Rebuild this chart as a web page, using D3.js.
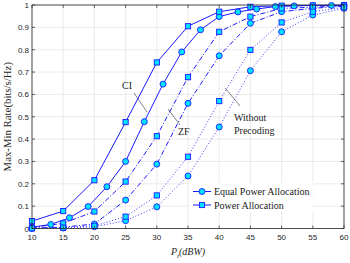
<!DOCTYPE html>
<html>
<head>
<meta charset="utf-8">
<script src="https://cdn.jsdelivr.net/npm/d3@7"></script>
<style>
  body { margin: 0; background: #fff; }
  svg { display: block; }
</style>
</head>
<body>
<script>
// transmit power grid (dBW)
const power5 = [10, 15, 20, 25, 30, 35, 40, 45, 50, 55, 60];
const power3 = [10, 13, 16, 19, 22, 25, 28, 31, 34, 37, 40, 43, 46, 49, 52, 55, 58, 60];

// max-min rate values
const ciEqual = [0.006, 0.018, 0.048, 0.098, 0.187, 0.30, 0.478, 0.646, 0.79, 0.889, 0.948, 0.969, 0.982, 0.993, 0.996, 0.998, 0.998, 0.999];
const ciPower = [0.033, 0.078, 0.216, 0.476, 0.743, 0.905, 0.97, 0.992, 0.997, 0.998, 0.999];
const zfEqual = [0.002, 0.006, 0.02, 0.127, 0.288, 0.56, 0.773, 0.918, 0.97, 0.985, 0.995];
const zfPower = [0.005, 0.023, 0.076, 0.21, 0.413, 0.677, 0.88, 0.948, 0.985, 0.99, 0.997];
const wpEqual = [0.0, 0.002, 0.008, 0.035, 0.097, 0.235, 0.454, 0.706, 0.88, 0.955, 0.985];
const wpPower = [0.001, 0.004, 0.012, 0.053, 0.148, 0.321, 0.57, 0.799, 0.922, 0.97, 0.99];

const xTicks = [10, 15, 20, 25, 30, 35, 40, 45, 50, 55, 60];
const yTicks = [0, 0.1, 0.2, 0.3, 0.4, 0.5, 0.6, 0.7, 0.8, 0.9, 1];
const legendLabels = ["Equal Power Allocation", "Power Allocation"];

const W = 350, H = 263;
const plotL = 32, plotR = 344, plotT = 5, plotB = 228.5;

const lineBlue = "#1a1aff";
const markFill = "#00e0ff";
const axisCol = "#262626";

const svg = d3.select("body").append("svg")
  .attr("width", W)
  .attr("height", H);

const x = d3.scaleLinear().domain([10, 60]).range([plotL, plotR]);
const y = d3.scaleLinear().domain([0, 1]).range([plotB, plotT]);

// grid
svg.append("g").selectAll("line").data(xTicks).join("line")
  .attr("x1", d => x(d)).attr("x2", d => x(d))
  .attr("y1", plotT).attr("y2", plotB)
  .attr("stroke", "#e3e3e3").attr("stroke-width", 0.7);
svg.append("g").selectAll("line").data(yTicks).join("line")
  .attr("x1", plotL).attr("x2", plotR)
  .attr("y1", d => y(d)).attr("y2", d => y(d))
  .attr("stroke", "#e3e3e3").attr("stroke-width", 0.7);

// series
const series = [
  { xs: power3, ys: ciEqual, dash: null, mark: "circle", col: lineBlue },
  { xs: power5, ys: ciPower, dash: null, mark: "square", col: lineBlue },
  { xs: power5, ys: zfEqual, dash: "5,2,1,2", mark: "circle", col: lineBlue },
  { xs: power5, ys: zfPower, dash: "5,2,1,2", mark: "square", col: lineBlue },
  { xs: power5, ys: wpEqual, dash: "1,2", mark: "circle", col: "#3a3aff" },
  { xs: power5, ys: wpPower, dash: "1,2", mark: "square", col: "#3a3aff" }
];

const line = d3.line().x(d => x(d[0])).y(d => y(d[1]));

function drawMarker(g, kind, cx, cy) {
  if (kind === "circle") {
    g.append("circle")
      .attr("cx", cx).attr("cy", cy).attr("r", 3)
      .attr("fill", markFill).attr("stroke", lineBlue).attr("stroke-width", 0.9);
  } else {
    g.append("rect")
      .attr("x", cx - 2.6).attr("y", cy - 2.6)
      .attr("width", 5.2).attr("height", 5.2)
      .attr("fill", markFill).attr("stroke", lineBlue).attr("stroke-width", 0.9);
  }
}

series.forEach(function (s) {
  let pts = s.xs.map((v, i) => [v, s.ys[i]]);
  svg.append("path")
    .attr("d", line(pts))
    .attr("fill", "none")
    .attr("stroke", s.col)
    .attr("stroke-width", 1)
    .attr("stroke-dasharray", s.dash);
});

series.forEach(function (s) {
  let g = svg.append("g");
  s.xs.forEach((v, i) => drawMarker(g, s.mark, x(v), y(s.ys[i])));
});

// box + ticks
svg.append("rect")
  .attr("x", plotL).attr("y", plotT)
  .attr("width", plotR - plotL).attr("height", plotB - plotT)
  .attr("fill", "none").attr("stroke", axisCol).attr("stroke-width", 0.8);

const tk = svg.append("g").attr("stroke", axisCol).attr("stroke-width", 0.7);
xTicks.forEach(function (d) {
  tk.append("line").attr("x1", x(d)).attr("x2", x(d)).attr("y1", plotB).attr("y2", plotB - 3);
  tk.append("line").attr("x1", x(d)).attr("x2", x(d)).attr("y1", plotT).attr("y2", plotT + 3);
});
yTicks.forEach(function (d) {
  tk.append("line").attr("x1", plotL).attr("x2", plotL + 3).attr("y1", y(d)).attr("y2", y(d));
  tk.append("line").attr("x1", plotR).attr("x2", plotR - 3).attr("y1", y(d)).attr("y2", y(d));
});

svg.append("g").selectAll("text").data(xTicks).join("text")
  .attr("x", d => x(d)).attr("y", plotB + 11)
  .attr("text-anchor", "middle")
  .attr("font-family", "Liberation Sans, Arial, sans-serif")
  .attr("font-size", 8).attr("fill", axisCol)
  .text(d => d);

svg.append("g").selectAll("text").data(yTicks).join("text")
  .attr("x", plotL - 3).attr("y", d => y(d) + 3)
  .attr("text-anchor", "end")
  .attr("font-family", "Liberation Sans, Arial, sans-serif")
  .attr("font-size", 8).attr("fill", axisCol)
  .text(d => d);

// axis labels
svg.append("text")
  .attr("transform", "translate(11," + ((plotT + plotB) / 2) + ") rotate(-90)")
  .attr("text-anchor", "middle")
  .attr("font-family", "Liberation Serif, Times New Roman, serif")
  .attr("font-size", 10.8).attr("fill", axisCol)
  .text("Max-Min Rate(bits/s/Hz)");

let xl = svg.append("text")
  .attr("x", 188).attr("y", 255)
  .attr("text-anchor", "middle")
  .attr("font-family", "Liberation Serif, Times New Roman, serif")
  .attr("font-style", "italic")
  .attr("font-size", 10).attr("fill", axisCol);
xl.append("tspan").text("P");
xl.append("tspan").attr("dy", 3).attr("font-size", 7).text("t");
xl.append("tspan").attr("dy", -3).text("(dBW)");

// annotations
const ann = svg.append("g")
  .attr("font-family", "Liberation Serif, Times New Roman, serif")
  .attr("font-size", 10).attr("fill", "#1a1a1a");
ann.append("text").attr("x", 122).attr("y", 89).text("CI");
ann.append("line").attr("x1", 134).attr("y1", 93).attr("x2", 147).attr("y2", 112)
  .attr("stroke", "#333").attr("stroke-width", 0.6);
ann.append("text").attr("x", 178).attr("y", 135).text("ZF");
ann.append("line").attr("x1", 168).attr("y1", 109).attr("x2", 180).attr("y2", 125)
  .attr("stroke", "#333").attr("stroke-width", 0.6);
ann.append("text").attr("x", 234).attr("y", 121).text("Without");
ann.append("text").attr("x", 234).attr("y", 134).text("Precoding");
ann.append("line").attr("x1", 225).attr("y1", 88).attr("x2", 240).attr("y2", 106)
  .attr("stroke", "#333").attr("stroke-width", 0.6);

// legend
const lg = svg.append("g");
lg.append("rect").attr("x", 189).attr("y", 183).attr("width", 124).attr("height", 29)
  .attr("fill", "#fff");
legendLabels.forEach(function (lab, i) {
  let ly = 191.5 + i * 13.5;
  lg.append("line").attr("x1", 193).attr("x2", 211).attr("y1", ly).attr("y2", ly)
    .attr("stroke", lineBlue).attr("stroke-width", 1);
  drawMarker(lg, i === 0 ? "circle" : "square", 202, ly);
  lg.append("text").attr("x", 214).attr("y", ly + 3.5)
    .attr("font-family", "Liberation Serif, Times New Roman, serif")
    .attr("font-size", 10).attr("fill", "#1a1a1a")
    .text(lab);
});
</script>
</body>
</html>
